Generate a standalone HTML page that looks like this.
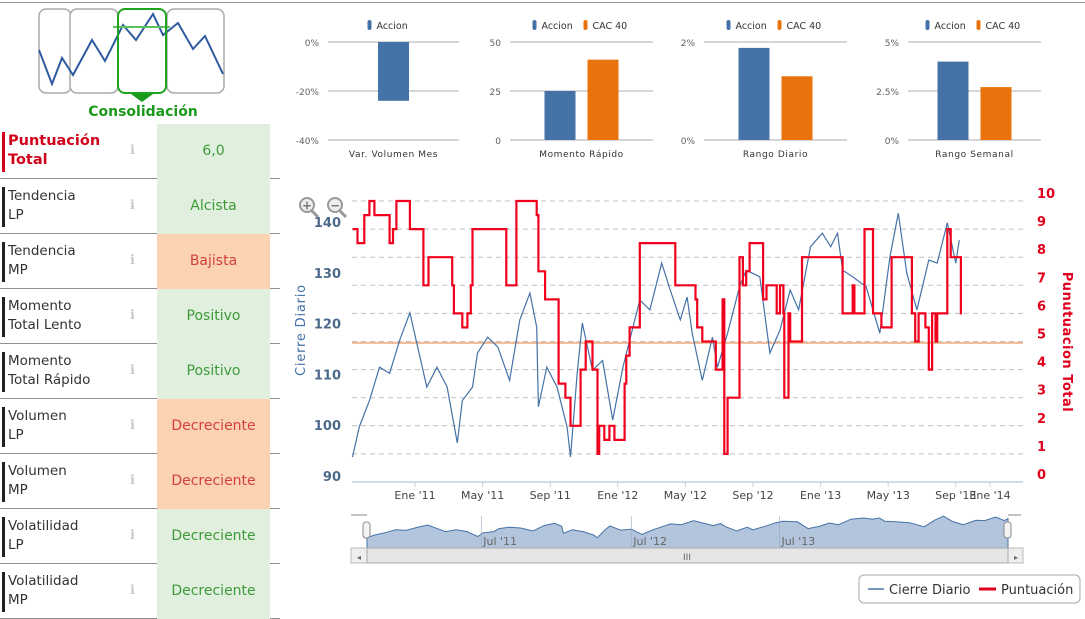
<!DOCTYPE html>
<html><head><meta charset="utf-8">
<style>
body{margin:0;width:1085px;height:611px;overflow:hidden;background:#fff;font-family:"Liberation Sans","DejaVu Sans",sans-serif;position:relative}
#topline{position:absolute;left:0;top:2px;width:1085px;height:1px;background:#9a9a9a}
.row{position:absolute;left:0;width:280px;height:54px;border-bottom:1px solid #8f8f8f}
.lbl{position:absolute;left:2px;top:8px;border-left:3px solid #222;padding-left:3px;font-family:"DejaVu Sans",sans-serif;font-size:13.5px;line-height:19px;color:#333;height:40px}
.info{position:absolute;left:130px;top:18px;color:#c8c8c8;font-size:13px}
.val{position:absolute;left:157px;top:0;width:113px;height:55px;line-height:55px;text-align:center;font-family:"DejaVu Sans",sans-serif;font-size:14px}
.g{background:#e1efde;color:#3e9a3a}.o{background:#fbd3b3;color:#d2403a}
svg{position:absolute;left:0;top:0}
text{font-family:"DejaVu Sans",sans-serif}
</style></head><body>
<div id="topline"></div>
<div id="table"></div>
<svg id="svg" width="1085" height="611"></svg>
<script>
// ---------- data ----------
var rowLabels=["Puntuación|Total","Tendencia|LP","Tendencia|MP","Momento|Total Lento","Momento|Total Rápido","Volumen|LP","Volumen|MP","Volatilidad|LP","Volatilidad|MP"];
var rowValues=["6,0","Alcista","Bajista","Positivo","Positivo","Decreciente","Decreciente","Decreciente","Decreciente"];
var rowTones=["g","g","o","g","g","o","o","g","g"];

var miniTitles=["Var. Volumen Mes","Momento Rápido","Rango Diario","Rango Semanal"];
var miniAccion=[-24,25,1.88,4.0];
var miniCac=[null,41,1.3,2.7];
var miniMax=[0,50,2,5];
var miniMin=[-40,0,0,0];
var miniTicks=[[0,-20,-40],[50,25,0],[2,0],[5,2.5,0]];
var miniTickLabels=[["0%","-20%","-40%"],["50","25","0"],["2%","0%"],["5%","2.5%","0%"]];

var closeMonths=[-3.7,-3.3,-2.7,-2.1,-1.5,-0.9,-0.3,0.1,0.7,1.3,1.9,2.5,2.8,3.4,3.7,4.3,4.9,5.6,6.2,6.8,7.2,7.3,7.8,8.4,9.0,9.2,9.6,9.9,10.5,11.1,11.7,12.3,12.9,13.3,13.9,14.6,15.1,15.7,16.1,16.4,17.0,17.6,17.9,18.5,19.2,19.6,20.4,21.0,21.6,22.2,22.7,23.4,24.1,24.6,25.0,25.3,25.9,26.7,27.5,28.1,28.6,29.1,29.7,30.4,30.9,31.5,32.0,32.2];
var closeValues=[94.9,100.8,106,112.6,111.4,118,123.3,117.4,108.7,112.6,108.7,97.7,106,108.7,115.4,118.5,116.6,110,121.9,127.2,120.5,104.8,112.6,108.7,100.8,94.9,111.4,121.3,112,113.9,102.2,112.6,120.5,125.8,123.9,133.1,127.8,121.9,126.4,119.3,110,118.5,112.6,119.3,128.4,131.7,130.4,115.4,119.9,127.8,123.9,136.3,139,136.3,139,131.7,130.4,128.4,119.3,134.3,142.9,131.1,123.9,133.7,133.1,141,133.1,137.6];

var scoreMonths=[-3.7,-3.4,-3.0,-2.7,-2.4,-1.5,-1.3,-1.1,-0.3,0.5,0.8,2.2,2.3,2.8,3.1,3.3,3.4,5.4,6.0,7.2,7.3,7.7,8.5,8.9,9.2,9.8,10.1,10.5,10.8,10.9,11.2,11.5,11.8,12.4,12.5,12.7,13.3,15.4,16.6,16.7,17.0,17.8,18.2,18.3,18.5,19.2,19.4,19.6,19.8,20.6,20.8,21.4,21.6,21.8,21.85,22.1,22.2,22.9,25.3,25.9,26.0,26.6,27.1,27.6,28.2,29.4,29.6,29.8,30.2,30.4,30.6,30.8,30.9,31.5,31.7,32.3];
var scoreValues=[9,8.5,9.5,10,9.5,8.5,9,10,9,7,8,7,6,5.5,6,7,9,7,10,9.5,7.5,6.5,3.5,3,2,4,5,4,1,2,1.5,2,1.5,3.5,4.5,5.5,8.5,7,6.5,5.5,5,4,6.5,1,3,8,7,7.5,8.5,6.5,7,6,7,6,3,6,5,8,6,7,6,9,6,5.5,8,6,5,6,5.5,4,6,5,6,9,8,6];
var scoreEnd=32.35;

var leftTicks=[90,100,110,120,130,140];
var rightTicks=[0,1,2,3,4,5,6,7,8,9,10];
var xTickMonths=[0,4,8,12,16,20,24,28,32,34];
var xTickLabels=["Ene '11","May '11","Sep '11","Ene '12","May '12","Sep '12","Ene '13","May '13","Sep '13","Ene '14"];
var thresholdScore=4.95;
var navTickMonths=[2.7,11.1,19.4];
var navTickLabels=["Jul '11","Jul '12","Jul '13"];

// ---------- helpers ----------
var NS="http://www.w3.org/2000/svg",svg=document.getElementById('svg');
function el(tag,attrs,parent,txt){var e=document.createElementNS(NS,tag);for(var k in attrs)e.setAttribute(k,attrs[k]);if(txt!=null)e.textContent=txt;(parent||svg).appendChild(e);return e;}

// ---------- table ----------
var table=document.getElementById('table');
var tops=[124,179,234,289,344,399,454,509,564];
for(var i=0;i<rowLabels.length;i++){
  var r=document.createElement('div');r.className='row';r.style.top=tops[i]+'px';
  
  
  var parts=rowLabels[i].split('|');
  var l=document.createElement('div');l.className='lbl';l.innerHTML=parts[0]+'<br>'+parts[1];
  
  
  if(i==0){l.style.borderLeftColor='#d0021b';l.style.color='#d0021b';l.style.fontWeight='bold';l.style.fontSize='14.5px';}
  var inf=document.createElement('div');inf.className='info';inf.textContent='ℹ';
  
  
  var v=document.createElement('div');v.className='val '+rowTones[i];v.textContent=rowValues[i];
  
  
  r.appendChild(l);r.appendChild(inf);r.appendChild(v);table.appendChild(r);
}

// ---------- logo ----------
var logo=el('g',{});


[[39,9,32,84],[70,9,48,84],[167,9,57,84]].forEach(function(b){el('rect',{x:b[0],y:b[1],width:b[2],height:b[3],rx:7,fill:'#fff',stroke:'#aaa','stroke-width':1.5},logo);});
el('polyline',{points:'39,50 52,84 62,58 73,75 92,40 105,61 123,25 136,40 153,14 163,35 178,23 193,49 205,36 223,74',fill:'none',stroke:'#2f5aa0','stroke-width':2},logo);
el('line',{x1:113,y1:27,x2:170,y2:27,stroke:'#5cc05c','stroke-width':2},logo);
el('rect',{x:118,y:9,width:48,height:84,rx:7,fill:'none',stroke:'#1fa41f','stroke-width':2},logo);
el('polygon',{points:'131,94 153,94 142,102',fill:'#1a9a1a'},logo);
el('text',{x:143,y:116,'text-anchor':'middle','font-size':14,'font-weight':'bold',fill:'#1a9a1a','font-family':'Liberation Sans'},logo,'Consolidación');

// ---------- mini charts ----------
var miniLeft=[328,510,704,908],miniW=[131,143,143,133];
for(var c=0;c<4;c++){
  var g=el('g',{});
  
  
  var x0=miniLeft[c],w=miniW[c],yTop=42,yBot=140;
  var ys=function(v){return yTop+(miniMax[c]-v)/(miniMax[c]-miniMin[c])*(yBot-yTop);};
  var tks=miniTicks[c];
  for(var t=0;t<tks.length;t++){
    var yy=ys(tks[t]);
    el('line',{x1:x0,y1:yy,x2:x0+w,y2:yy,stroke:'#c8c8c8','stroke-width':1.5},g);
    el('text',{x:x0-9,y:yy+4,'text-anchor':'end','font-size':9,fill:'#606060'},g,miniTickLabels[c][t]);
  }
  var cx=x0+w/2;
  var has2=miniCac[c]!=null;
  var bw=31;
  var bx1=has2?cx-bw-6:cx-bw/2;
  var a=miniAccion[c];
  var r1=el('rect',{x:bx1,y:Math.min(ys(a),ys(0)),width:bw,height:Math.abs(ys(a)-ys(0)),fill:'#4572a7'},g);
  
  
  if(has2){
    var b=miniCac[c];
    var r2=el('rect',{x:cx+6,y:Math.min(ys(b),ys(0)),width:bw,height:Math.abs(ys(b)-ys(0)),fill:'#e8720c'},g);
    
    
  }
  el('text',{x:cx,y:157,'text-anchor':'middle','font-size':9,fill:'#333','letter-spacing':'0.6'},g,miniTitles[c]);
  var lx=has2?cx-49:cx-26;
  var lg=el('g',{},g);
  
  
  el('rect',{x:lx,y:20,width:4,height:10,rx:2,fill:'#4572a7'},lg);
  el('text',{x:lx+9,y:29,'font-size':9.5,fill:'#333'},lg,'Accion');
  if(has2){el('rect',{x:lx+51,y:20,width:4,height:10,rx:2,fill:'#e8720c'},lg);el('text',{x:lx+60,y:29,'font-size':9.5,fill:'#333'},lg,'CAC 40');}
}

// ---------- main chart ----------
var PL=352,PR=1023,PB=482;
function X(m){return 415+m*16.9;}
function YL(v){return PB-(v-90)*5.08;}
function YR(v){return PB-v*28.1;}
var main=el('g',{});


rightTicks.forEach(function(t){
  if(t>0){var gl=el('line',{x1:PL,y1:YR(t),x2:PR,y2:YR(t),stroke:'#c0c0c0','stroke-dasharray':'5,4','stroke-width':1},main);
  
  }
  el('text',{x:1037,y:YR(t)-3,'font-size':13,'font-weight':'bold',fill:'#e0001b'},main,String(t));
});
leftTicks.forEach(function(t){el('text',{x:341,y:YL(t)-1,'text-anchor':'end','font-size':13,'font-weight':'bold',fill:'#4d6a8a'},main,String(t));});
el('line',{x1:PL,y1:PB,x2:PR,y2:PB,stroke:'#c0d0e0','stroke-width':1.5},main);
xTickMonths.forEach(function(m,i){
  var x=X(m);if(i==xTickMonths.length-1)x=990;
  el('line',{x1:x,y1:PB,x2:x,y2:PB+5,stroke:'#c0d0e0'},main);
  el('text',{x:x,y:PB+17,'text-anchor':'middle','font-size':11,fill:'#444'},main,xTickLabels[i]);
});
var yt=el('text',{x:0,y:0,transform:'translate(305,330) rotate(-90)','text-anchor':'middle','font-size':13,fill:'#4572a7','letter-spacing':'0.8'},main,'Cierre Diario');


var yt2=el('text',{x:0,y:0,transform:'translate(1063,342) rotate(90)','text-anchor':'middle','font-size':13,'font-weight':'bold',fill:'#e0001b','letter-spacing':'0.5'},main,'Punutuacion Total');


// threshold line
var th=el('line',{x1:PL,y1:YR(thresholdScore),x2:PR,y2:YR(thresholdScore),stroke:'#f0b894','stroke-width':2},main);


// close
var pts=closeMonths.map(function(m,i){return X(m).toFixed(1)+','+YL(closeValues[i]).toFixed(1);}).join(' ');
var cl=el('polyline',{points:pts,fill:'none',stroke:'#4572a7','stroke-width':1.2},main);


// score step
var sp=[];
for(var i=0;i<scoreMonths.length;i++){
  var xs=X(scoreMonths[i]),xe=X(i+1<scoreMonths.length?scoreMonths[i+1]:scoreEnd),yv=YR(scoreValues[i]);
  sp.push(xs.toFixed(1)+','+yv.toFixed(1));sp.push(xe.toFixed(1)+','+yv.toFixed(1));
}
var sc=el('polyline',{points:sp.join(' '),fill:'none',stroke:'#f0001c','stroke-width':2.2},main);


// zoom icons
[[307,'+','zoom-in-button'],[335,'−','zoom-out-button']].forEach(function(z){
  var zg=el('g',{},main);
  
  
  el('line',{x1:z[0]+5,y1:211,x2:z[0]+11,y2:217,stroke:'#999','stroke-width':3},zg);
  el('circle',{cx:z[0],cy:205,r:7,fill:'#eee',stroke:'#999','stroke-width':2},zg);
  el('text',{x:z[0],y:209.5,'text-anchor':'middle','font-size':12,'font-weight':'bold',fill:'#777'},zg,z[1]);
});

// ---------- navigator ----------
var nav=el('g',{});


var NL=367,NR=1008,NT=516,NB=548;
function NX(m){return NL+(m-closeMonths[0])/(closeMonths[closeMonths.length-1]-closeMonths[0])*(NR-NL);}
function NY(v){return NB-8-(v-90)*0.45;}
var ap='M'+NX(closeMonths[0])+','+NB;
closeMonths.forEach(function(m,i){ap+=' L'+NX(m).toFixed(1)+','+NY(closeValues[i]).toFixed(1);});
ap+=' L'+NX(closeMonths[closeMonths.length-1])+','+NB+' Z';
el('path',{d:ap,fill:'#b3c5dc',stroke:'#4572a7','stroke-width':1},nav);
navTickMonths.forEach(function(m,i){
  el('line',{x1:NX(m),y1:NT,x2:NX(m),y2:NB,stroke:'#9ab',"stroke-width":0.6},nav);
  el('text',{x:NX(m)+2,y:545,'font-size':11,fill:'#666'},nav,navTickLabels[i]);
});
el('line',{x1:351,y1:515,x2:367,y2:515,stroke:'#888'},nav);el('line',{x1:1008,y1:515,x2:1021,y2:515,stroke:'#888'},nav);
el('rect',{x:363,y:522,width:7,height:16,rx:3,fill:'#f4f4f4',stroke:'#888'},nav);
el('rect',{x:1004,y:522,width:7,height:16,rx:3,fill:'#f4f4f4',stroke:'#888'},nav);
// scrollbar
var sb=el('g',{});


el('rect',{x:351,y:548,width:672,height:15,fill:'#eee',stroke:'#bbb'},sb);
el('rect',{x:367,y:548,width:641,height:15,fill:'#e6e6e6',stroke:'#aaa'},sb);
el('text',{x:687,y:560,'text-anchor':'middle','font-size':9,fill:'#666'},sb,'III');
el('text',{x:359,y:560,'text-anchor':'middle','font-size':8,fill:'#666'},sb,'◂');
el('text',{x:1016,y:560,'text-anchor':'middle','font-size':8,fill:'#666'},sb,'▸');

// ---------- legend ----------
var lg=el('g',{});


el('rect',{x:859,y:575,width:221,height:28,rx:5,fill:'#fff',stroke:'#aaa'},lg);
el('line',{x1:868,y1:589,x2:884,y2:589,stroke:'#4572a7','stroke-width':1.5},lg);
el('text',{x:889,y:594,'font-size':13,fill:'#333'},lg,'Cierre Diario');
el('line',{x1:979,y1:589,x2:996,y2:589,stroke:'#e0001b','stroke-width':3},lg);
el('text',{x:1001,y:594,'font-size':13,fill:'#333'},lg,'Puntuación');
</script>
</body></html>
